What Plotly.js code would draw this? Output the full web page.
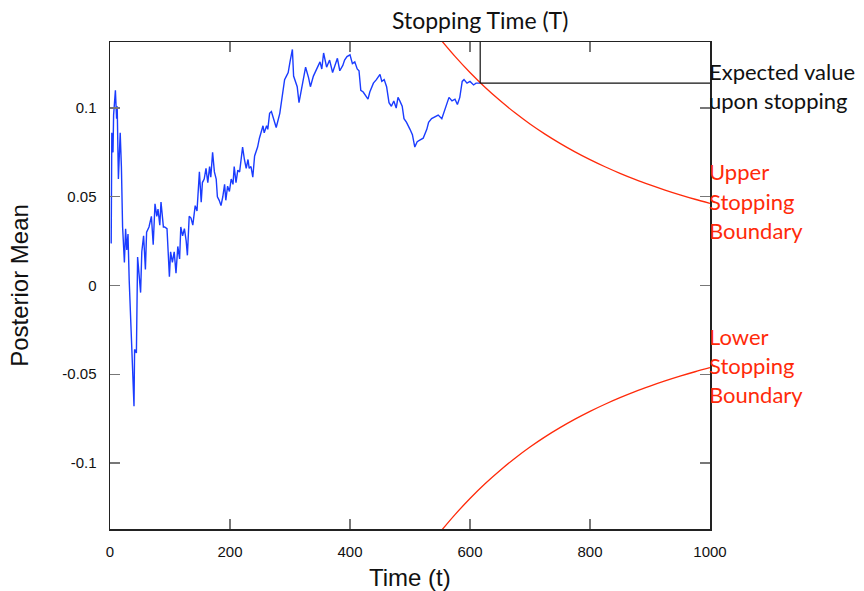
<!DOCTYPE html>
<html>
<head>
<meta charset="utf-8">
<script src="https://cdn.plot.ly/plotly-3.0.1.min.js"></script>
<style>html,body{margin:0;padding:0;background:#fff;}#chart{width:864px;height:591px;}</style>
</head>
<body>
<div id="chart"></div>
<script>
// Posterior mean path (time t, value)
const pathT = [1,2,3,5,6,8,9,11,12,14,17,19,21,24,26,28,30,32,34,36,38,40,41,44,46,49,51,53,55,56,59,61,65,69,72,75,78,80,83,85,89,91,95,97,99,101,104,107,110,113,116,118,121,124,127,129,132,135,138,142,145,149,152,154,157,160,163,166,168,171,174,177,179,182,185,188,191,193,196,199,202,205,207,210,213,216,218,221,224,227,230,232,235,238,241,243,246,249,252,255,257,261,263,266,269,272,277,283,288,291,294,297,300,304,306,308,312,315,319,323,326,331,334,339,344,350,353,356,361,366,371,375,379,383,388,391,395,400,404,408,412,415,418,422,427,430,433,439,444,450,453,457,461,465,469,473,477,480,483,487,490,494,500,504,508,512,517,522,528,531,536,542,547,553,557,561,565,570,575,579,583,587,590,595,600,606,610,614,617];
const pathV = [0.024,0.024,0.086,0.075,0.096,0.105,0.110,0.094,0.101,0.060,0.086,0.067,0.033,0.013,0.032,0.020,0.029,0.003,-0.014,-0.038,-0.050,-0.068,-0.036,-0.038,0.016,0.006,-0.004,0.019,0.026,0.028,0.009,0.030,0.033,0.039,0.023,0.046,0.039,0.043,0.034,0.047,0.033,0.033,0.032,0.019,0.005,0.019,0.013,0.019,0.007,0.022,0.015,0.033,0.028,0.032,0.025,0.017,0.039,0.038,0.034,0.045,0.042,0.064,0.047,0.058,0.060,0.066,0.058,0.067,0.061,0.075,0.064,0.060,0.050,0.048,0.045,0.050,0.057,0.048,0.056,0.053,0.060,0.057,0.067,0.058,0.065,0.064,0.069,0.078,0.071,0.066,0.071,0.066,0.067,0.061,0.073,0.075,0.078,0.083,0.086,0.090,0.086,0.090,0.088,0.097,0.098,0.094,0.089,0.097,0.109,0.116,0.118,0.120,0.126,0.133,0.118,0.116,0.112,0.103,0.110,0.116,0.123,0.117,0.112,0.118,0.122,0.126,0.122,0.131,0.123,0.127,0.120,0.124,0.128,0.121,0.124,0.127,0.129,0.130,0.125,0.126,0.122,0.121,0.110,0.109,0.106,0.105,0.109,0.114,0.116,0.119,0.115,0.116,0.112,0.103,0.101,0.104,0.100,0.106,0.104,0.101,0.094,0.092,0.088,0.085,0.078,0.081,0.082,0.083,0.088,0.092,0.094,0.095,0.096,0.094,0.098,0.102,0.106,0.104,0.105,0.102,0.106,0.115,0.116,0.114,0.115,0.113,0.114,0.114,0.114];

// Stopping boundaries
const boundT = [550,575,600,625,650,675,700,725,750,775,800,825,850,875,900,925,950,975,1000];
const upperB = [0.1390,0.1291,0.1200,0.1117,0.1042,0.0973,0.0910,0.0853,0.0801,0.0753,0.0709,0.0669,0.0632,0.0598,0.0567,0.0538,0.0511,0.0486,0.0463];
const lowerB = [-0.1390,-0.1291,-0.1200,-0.1117,-0.1042,-0.0973,-0.0910,-0.0853,-0.0801,-0.0753,-0.0709,-0.0669,-0.0632,-0.0598,-0.0567,-0.0538,-0.0511,-0.0486,-0.0463];

// Stopping point
const stoppingTime = 617;
const expectedValue = 0.114;

// Axis ticks
const xTicks = [0,200,400,600,800,1000];
const xTickText = ['0','200','400','600','800','1000'];
const yTicks = [-0.1,-0.05,0,0.05,0.1];
const yTickText = ['-0.1','-0.05','0','0.05','0.1'];

// Right-side labels
const rightLabels = [
  {text:'Expected value', py:72, color:'#111111'},
  {text:'upon stopping', py:101, color:'#111111'},
  {text:'Upper', py:172, color:'#ff2a0a'},
  {text:'Stopping', py:202, color:'#ff2a0a'},
  {text:'Boundary', py:231, color:'#ff2a0a'},
  {text:'Lower', py:337, color:'#ff2a0a'},
  {text:'Stopping', py:366, color:'#ff2a0a'},
  {text:'Boundary', py:395, color:'#ff2a0a'}
];

const plotTop = 42, plotBottom = 529.5, plotH = plotBottom - plotTop;
const toPaperY = py => (plotBottom - py) / plotH;

const traces = [
  {x: pathT, y: pathV, mode:'lines', line:{color:'#1a3cff', width:1.4}, hoverinfo:'skip'},
  {x: boundT, y: upperB, mode:'lines', line:{color:'#ff2a0a', width:1.3, shape:'spline', smoothing:1}, hoverinfo:'skip'},
  {x: boundT, y: lowerB, mode:'lines', line:{color:'#ff2a0a', width:1.3, shape:'spline', smoothing:1}, hoverinfo:'skip'}
];

const gill = 'Lato, "Open Sans", sans-serif';
const helv = '"Liberation Sans", Arial, sans-serif';

const annotations = rightLabels.map(l => ({
  xref:'paper', yref:'paper', x:1, y:toPaperY(l.py), xanchor:'left', yanchor:'middle',
  text:l.text, showarrow:false, font:{family:gill, size:22, color:l.color}, xshift:-3
}));
annotations.push({xref:'x', yref:'paper', x:stoppingTime, y:toPaperY(20), xanchor:'center', yanchor:'middle',
  text:'Stopping Time (T)', showarrow:false, font:{family:gill, size:23, color:'#111111'}});
annotations.push({xref:'paper', yref:'paper', x:0.5, y:toPaperY(578), xanchor:'center', yanchor:'middle',
  text:'Time (t)', showarrow:false, font:{family:helv, size:24, color:'#111111'}});
annotations.push({xref:'paper', yref:'paper', x:(20-110.5)/599, y:0.5, xanchor:'center', yanchor:'middle',
  text:'Posterior Mean', textangle:-90, showarrow:false, font:{family:helv, size:24, color:'#111111'}});

const layout = {
  width:864, height:591,
  margin:{l:110, r:154, t:42, b:61.5, pad:0},
  paper_bgcolor:'#ffffff', plot_bgcolor:'#ffffff',
  showlegend:false,
  xaxis:{range:[0,1000], tickvals:xTicks, ticktext:xTickText, ticks:'inside', ticklen:10, tickcolor:'#777777', tickwidth:1.3,
    showline:true, linecolor:'#222222', linewidth:1.5, mirror:'ticks', showgrid:false, zeroline:false,
    tickfont:{family:helv, size:15, color:'#111111'}, ticklabelstandoff:8},
  yaxis:{range:[-0.1372,0.1372], tickvals:yTicks, ticktext:yTickText, ticks:'inside', ticklen:10, tickcolor:'#777777', tickwidth:1.3,
    showline:true, linecolor:'#222222', linewidth:1.5, mirror:'ticks', showgrid:false, zeroline:false,
    tickfont:{family:helv, size:15, color:'#111111'}, ticklabelstandoff:9},
  shapes:[
    {type:'line', xref:'x', yref:'y', x0:stoppingTime, x1:stoppingTime, y0:expectedValue, y1:0.1372, line:{color:'#111111', width:1.2}},
    {type:'line', xref:'x', yref:'y', x0:stoppingTime, x1:1000, y0:expectedValue, y1:expectedValue, line:{color:'#111111', width:1.2}}
  ],
  annotations:annotations
};

Plotly.newPlot('chart', traces, layout, {displayModeBar:false, staticPlot:true});
</script>
</body>
</html>
